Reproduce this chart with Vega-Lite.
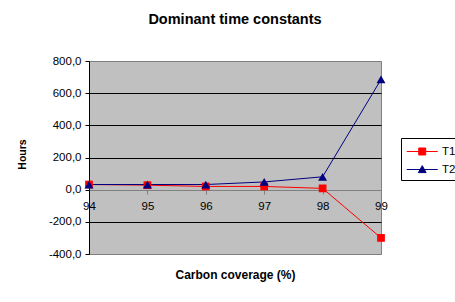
{
  "$schema": "https://vega.github.io/schema/vega-lite/v6.json",
  "autosize": {"type": "none"},
  "padding": {"left": 89, "top": 61, "right": 74, "bottom": 48},
  "width": 292,
  "height": 193,
  "background": "white",
  "config": {
    "font": "Liberation Sans",
    "view": {"fill": "#C0C0C0", "stroke": "#808080", "strokeWidth": 1}
  },
  "title": {
    "text": "Dominant time constants",
    "fontSize": 14.5,
    "fontWeight": "bold",
    "font": "Liberation Sans",
    "color": "black",
    "anchor": "middle",
    "offset": 28
  },
  "data": {
    "values": [
      {"x": 94, "series": "T1", "v": 32},
      {"x": 95, "series": "T1", "v": 28},
      {"x": 96, "series": "T1", "v": 20},
      {"x": 97, "series": "T1", "v": 20},
      {"x": 98, "series": "T1", "v": 8},
      {"x": 99, "series": "T1", "v": -300},
      {"x": 94, "series": "T2", "v": 32},
      {"x": 95, "series": "T2", "v": 32},
      {"x": 96, "series": "T2", "v": 32},
      {"x": 97, "series": "T2", "v": 48},
      {"x": 98, "series": "T2", "v": 80},
      {"x": 99, "series": "T2", "v": 685}
    ]
  },
  "encoding": {
    "x": {
      "field": "x",
      "type": "quantitative",
      "scale": {"domain": [94, 99], "nice": false, "zero": false},
      "axis": {
        "title": "Carbon coverage (%)",
        "values": [94, 95, 96, 97, 98, 99],
        "format": "d",
        "offset": -64,
        "grid": false,
        "domainColor": "#808080",
        "tickColor": "#808080",
        "tickSize": 4,
        "labelPadding": 6,
        "labelFontSize": 11.5,
        "labelColor": "black",
        "labelFlush": false,
        "labelOverlap": false,
        "titleFontSize": 12,
        "titleFontWeight": "bold",
        "titleColor": "black",
        "titleY": 84,
        "titleBaseline": "middle"
      }
    },
    "y": {
      "field": "v",
      "type": "quantitative",
      "scale": {"domain": [-400, 800], "nice": false},
      "axis": {
        "title": "Hours",
        "values": [-400, -200, 0, 200, 400, 600, 800],
        "labelExpr": "datum.value + ',0'",
        "grid": true,
        "gridColor": {"condition": {"test": "datum.value == 0 || datum.value == 800 || datum.value == -400", "value": "#808080"}, "value": "black"},
        "gridOpacity": 1,
        "domainColor": "black",
        "tickColor": "black",
        "tickSize": 4,
        "labelPadding": 4,
        "labelFontSize": 11.5,
        "labelColor": "black",
        "labelFlush": false,
        "labelOverlap": false,
        "titleFontSize": 10.5,
        "titleFontWeight": "bold",
        "titleColor": "black",
        "titleX": -67,
        "titleY": 93,
        "titleBaseline": "middle",
        "titleAngle": -90
      }
    }
  },
  "layer": [
    {
      "mark": {"type": "line", "strokeWidth": 1},
      "encoding": {
        "color": {
          "field": "series",
          "type": "nominal",
          "scale": {"domain": ["T1", "T2"], "range": ["#FF0000", "#000080"]},
          "legend": {
            "title": null,
            "orient": "none",
            "legendX": 312,
            "legendY": 77,
            "strokeColor": "black",
            "fillColor": "white",
            "padding": 5,
            "symbolSize": 240,
            "symbolStrokeWidth": 1,
            "labelOffset": 19,
            "labelFontSize": 11.5,
            "labelColor": "black",
            "rowPadding": 4,
            "encode": {
              "symbols": {
                "update": {
                  "shape": {"signal": "datum.value == 'T1' ? 'M-1,0H3M0.55,-0.45H1.45V0.45H0.55Z' : 'M-1,0H3M1,-0.5L1.5,0.4H0.5Z'"},
                  "fill": {"signal": "datum.value == 'T1' ? '#FF0000' : '#000080'"},
                  "stroke": {"signal": "datum.value == 'T1' ? '#FF0000' : '#000080'"},
                  "fillOpacity": {"value": 1}
                }
              }
            }
          }
        }
      }
    },
    {
      "mark": {"type": "point", "filled": true, "opacity": 1},
      "encoding": {
        "color": {"field": "series", "type": "nominal", "legend": null},
        "shape": {"condition": {"test": "datum.series == 'T1'", "value": "square"}, "value": "triangle-up"},
        "size": {"condition": {"test": "datum.series == 'T1'", "value": 60}, "value": 80}
      }
    }
  ]
}
